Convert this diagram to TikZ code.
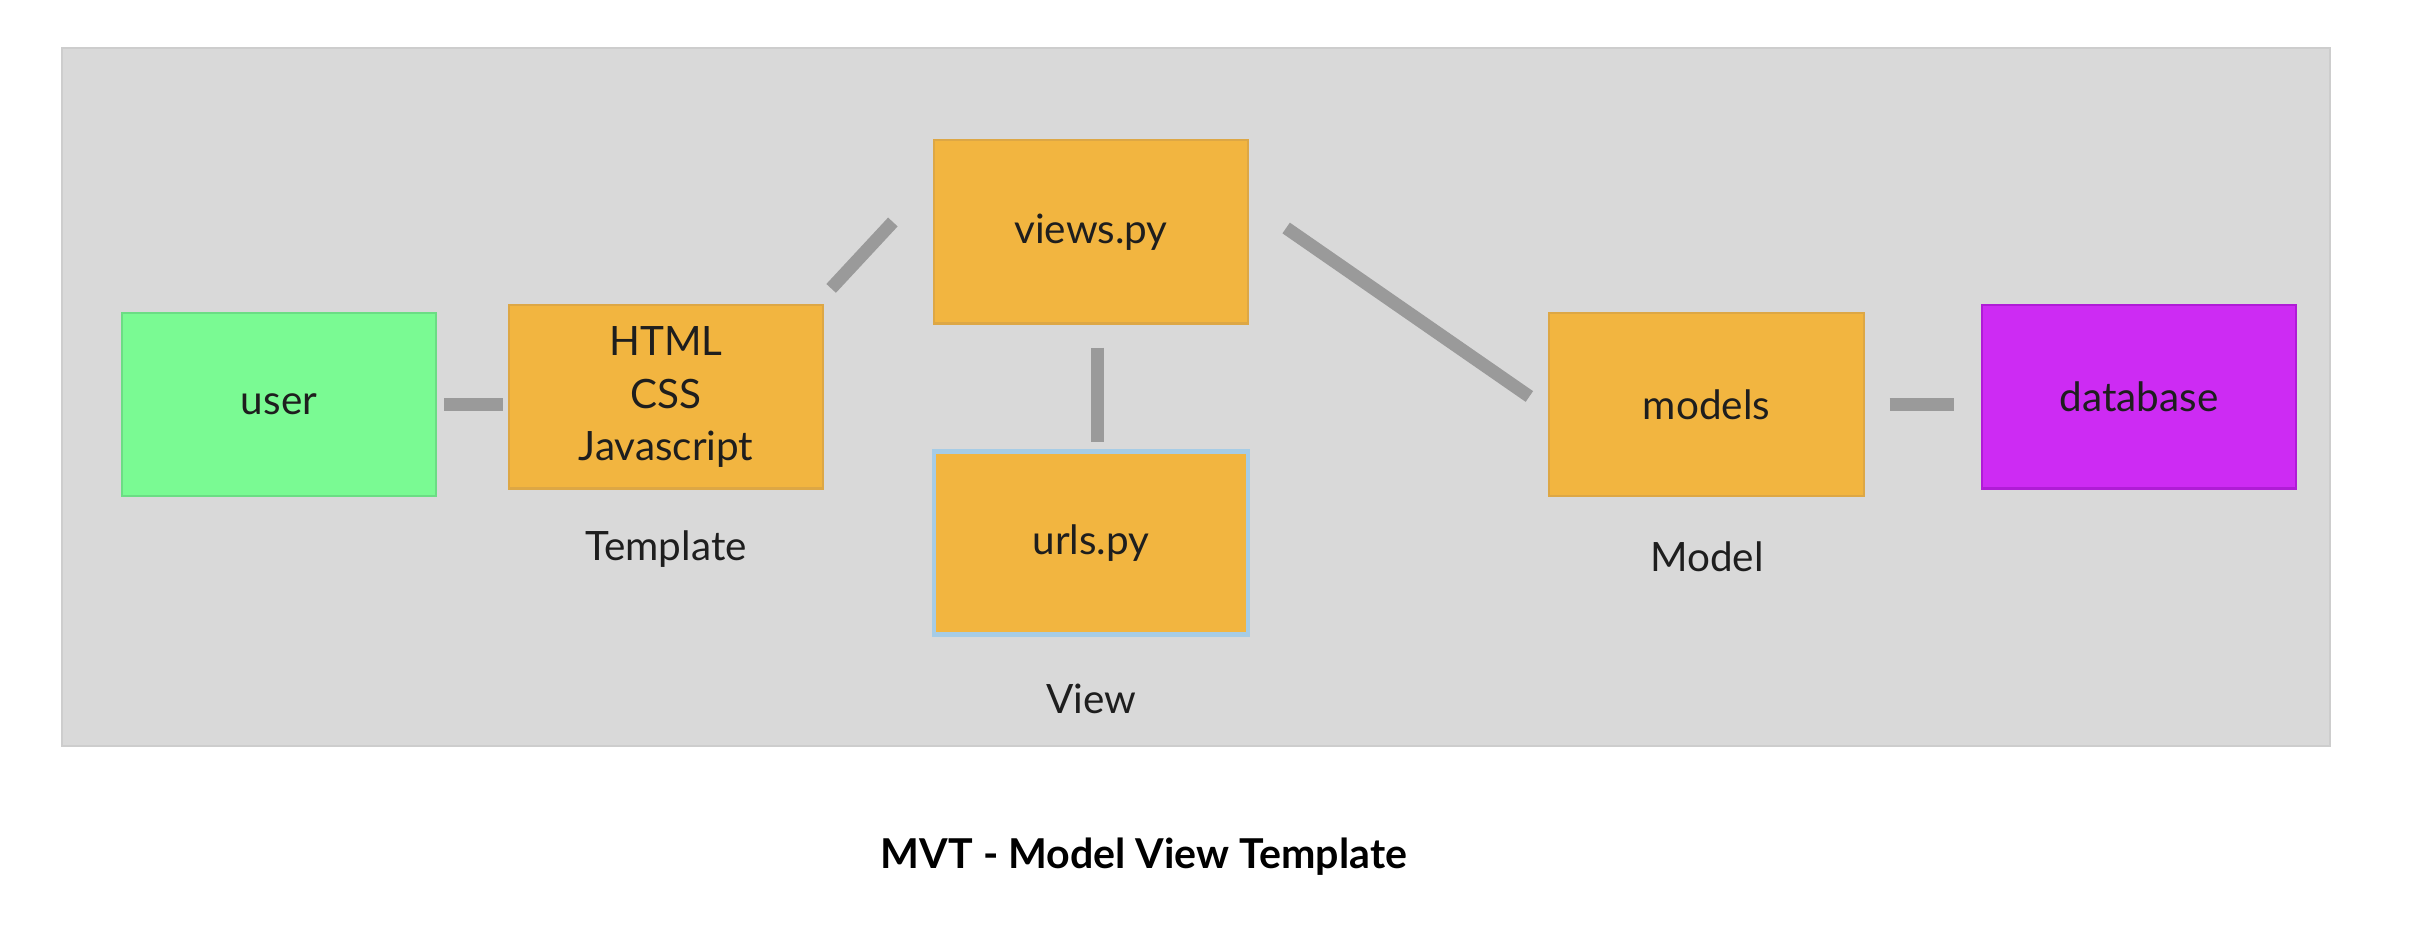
\documentclass[tikz,border=0pt]{standalone}
\usepackage{fontspec}
\setmainfont{Lato}
\usetikzlibrary{calc}
\definecolor{panelgray}{HTML}{D9D9D9}
\definecolor{panelborder}{HTML}{CDCDCD}
\definecolor{orangefill}{HTML}{F2B540}
\definecolor{orangeline}{HTML}{DDA745}
\definecolor{greenfill}{HTML}{7AFA93}
\definecolor{greenline}{HTML}{6BDD84}
\definecolor{magfill}{HTML}{CD2BF3}
\definecolor{magline}{HTML}{B01CD6}
\definecolor{selblue}{HTML}{A6CCE6}
\definecolor{conngray}{HTML}{9A9A9A}
\definecolor{txt}{HTML}{1E1E1E}
\tikzset{
  box/.style={rectangle, minimum width=3.14cm, minimum height=1.83cm, inner sep=0pt,
    align=center, text=txt, font=\fontsize{11.5}{14.8}\selectfont, line width=0.6pt},
  orangebox/.style={box, fill=orangefill, draw=orangeline},
  greenbox/.style={box, fill=greenfill, draw=greenline},
  magbox/.style={box, fill=magfill, draw=magline},
  caption/.style={anchor=base, text=txt, font=\fontsize{11.5}{14}\selectfont, inner sep=0pt},
  conn/.style={draw=conngray, line width=3.7pt, line cap=butt},
}
\begin{document}
\begin{tikzpicture}[x=0.01cm, y=-0.01cm]
\useasboundingbox (0,0) rectangle (2430,928);
\fill[white] (0,0) rectangle (2430,928);
% panel
\filldraw[fill=panelgray, draw=panelborder, line width=0.8pt] (62,48) rectangle (2330,746);

% boxes
\node[greenbox]  (user)  at (279,404.5) {user};
\node[orangebox] (html)  at (666,397)   {HTML\\CSS\\Javascript};
\node[orangebox] (views) at (1091,232)  {views.py};
\node[orangebox, draw=selblue, line width=1.2pt] (urls) at (1091,543) {urls.py};
\node[orangebox] (models) at (1706.5,404.5) {models};
\node[magbox]    (db)    at (2139,397)  {database};

% labels
\node[caption] (tpl)   at (666,561)  {Template};
\node[caption] (view)  at (1091,714) {View};
\node[caption] (model) at (1707,572) {Model};
\node[anchor=base, inner sep=0pt, text=black, font=\fontsize{11.7}{14}\selectfont\bfseries] (title) at (1144,869) {MVT - Model View Template};

% connectors
\draw[conn, shorten <=0.07cm, shorten >=0.05cm] (user.east) -- (user.east -| html.west);
\draw[conn] ($(html.north east)+(7,-16)$) -- ($(views.west)+(-40,-10)$);
\draw[conn] ($(views.south)+(6,23)$) -- ($(urls.north)+(6,-7)$);
\draw[conn] ($(views.east)+(37,-4)$) -- ($(models.west)+(-19,-8)$);
\draw[conn, shorten <=0.25cm, shorten >=0.27cm] (models.east) -- (models.east -| db.west);
\end{tikzpicture}
\end{document}
